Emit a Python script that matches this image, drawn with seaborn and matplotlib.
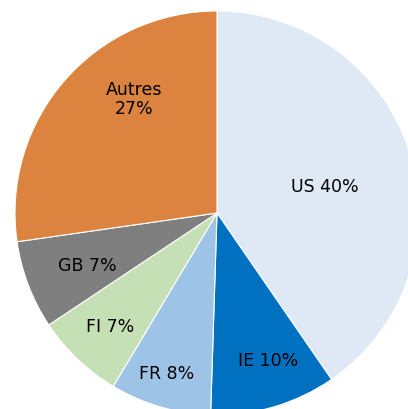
import numpy as np
import seaborn as sns
import matplotlib.pyplot as plt

countries = ["US", "IE", "FR", "FI", "GB", "Autres"]
shares = [40, 10, 8, 7, 7, 27]
labels = ["US 40%", "IE 10%", "FR 8%", "FI 7%", "GB 7%", "Autres\n27%"]
colors = ["#DEE9F5", "#0070C0", "#9DC3E6", "#C5E0B4", "#7F7F7F", "#DC843F"]

sns.set_theme(style="white")
plt.rcParams["font.family"] = ["DejaVu Sans"]

fig = plt.figure(figsize=(4.08, 4.10), dpi=100)
ax = fig.add_axes([15 / 408, -6 / 410, 404 / 408, 404 / 410])

wedges, _ = ax.pie(shares, colors=colors, startangle=90, counterclock=False,
                   radius=1.0, wedgeprops=dict(edgecolor="white", linewidth=0.8))

# label placement: distance from centre and small angle nudge per slice
dist = [0.55, 0.77, 0.83, 0.77, 0.69, 0.70]
nudge = [-3, 3, -1, 0, 1, -13]
for w, lab, d, n in zip(wedges, labels, dist, nudge):
    ang = np.deg2rad((w.theta1 + w.theta2) / 2 + n)
    ax.text(d * np.cos(ang), d * np.sin(ang), lab, ha="center", va="center",
            fontsize=12.5, color="black", linespacing=1.1)

ax.set_xlim(-1, 1)
ax.set_ylim(-1, 1)
ax.set_aspect("equal")
ax.axis("off")

plt.savefig("out.png", dpi=100)
